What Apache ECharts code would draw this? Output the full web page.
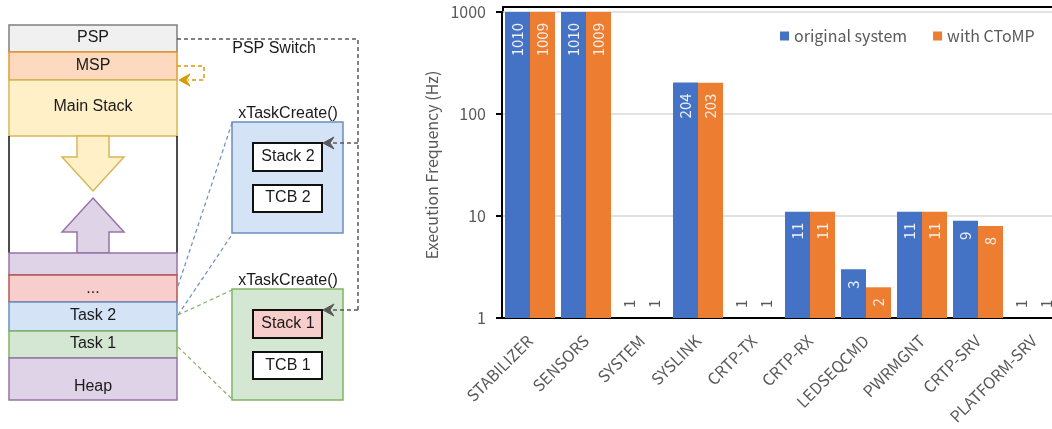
<!DOCTYPE html>
<html>
<head>
<meta charset="utf-8">
<script src="https://cdn.jsdelivr.net/npm/echarts@6.0.0/dist/echarts.min.js"></script>
<style>
  html, body { margin: 0; padding: 0; background: #ffffff; overflow: hidden; width: 1052px; height: 429px; }
  /* the plot runs a little past the right edge of the page */
  #chart { width: 1062px; height: 429px; }
</style>
</head>
<body>
<div id="chart"></div>
<script>
// Task categories on the x axis
const categories = ['STABILIZER', 'SENSORS', 'SYSTEM', 'SYSLINK', 'CRTP-TX', 'CRTP-RX', 'LEDSEQCMD', 'PWRMGNT', 'CRTP-SRV', 'PLATFORM-SRV'];
// Execution frequency (Hz) of each task
const originalSystem = [1010, 1010, 1, 204, 1, 11, 3, 11, 9, 1];
const withCToMP = [1009, 1009, 1, 203, 1, 11, 2, 11, 8, 1];
const seriesNames = ['original system', 'with CToMP'];

const chartFont = '"Noto Sans CJK SC", "Noto Sans", sans-serif';
const diagFont = '"Liberation Sans", Arial, sans-serif';
const gray = '#595959';

// Value labels: inside the bar top, rotated; bars that sit on the baseline get a gray label above it
function toItems(values) {
  return values.map(function (v) {
    if (v <= 1) {
      return { value: v, label: { position: 'top', align: 'left', color: gray, distance: 10 } };
    }
    return v;
  });
}

// ---- memory layout diagram drawn with graphic elements ----
function rect(x, y, w, h, fill, stroke, lw) {
  return { type: 'rect', shape: { x: x, y: y, width: w, height: h }, style: { fill: fill, stroke: stroke, lineWidth: lw || 1.5 } };
}
function label(txt, x, y, size) {
  return { type: 'text', style: { text: txt, x: x, y: y, fill: '#1a1a1a', font: (size || 16) + 'px ' + diagFont, align: 'center', verticalAlign: 'middle' } };
}
function dashed(points, color, lw) {
  return { type: 'polyline', shape: { points: points }, style: { stroke: color, lineWidth: lw || 1.5, lineDash: [4, 3], fill: null } };
}
function arrowHead(x, y, color) {
  return { type: 'polygon', shape: { points: [[x, y], [x + 11, y - 6], [x + 7, y], [x + 11, y + 6]] }, style: { fill: color, stroke: color, lineWidth: 1 } };
}

const diagram = [
  // stack column
  rect(9, 25, 168, 27, '#eff0ef', '#7f7f7f'),
  rect(9, 52, 168, 28, '#fcd9bf', '#e39a2c'),
  rect(9, 80, 168, 56, '#fff0c8', '#d6b656'),
  { type: 'line', shape: { x1: 9, y1: 136, x2: 9, y2: 253 }, style: { stroke: '#111', lineWidth: 1.5 } },
  { type: 'line', shape: { x1: 177, y1: 136, x2: 177, y2: 253 }, style: { stroke: '#111', lineWidth: 1.5 } },
  { type: 'polygon', shape: { points: [[77, 136], [109, 136], [109, 157], [124, 157], [93, 191], [62, 157], [77, 157]] }, style: { fill: '#fff0c8', stroke: '#d6b656', lineWidth: 1.5 } },
  { type: 'polygon', shape: { points: [[93, 198], [124, 232], [109, 232], [109, 253], [77, 253], [77, 232], [62, 232]] }, style: { fill: '#dfd3e8', stroke: '#9673a6', lineWidth: 1.5 } },
  rect(9, 253, 168, 22, '#dfd3e8', '#9673a6'),
  rect(9, 275, 168, 27, '#f8cecc', '#b85450'),
  rect(9, 302, 168, 29, '#d4e3f6', '#6c8ebf'),
  rect(9, 331, 168, 27, '#d3e7d2', '#82b366'),
  rect(9, 358, 168, 42, '#dfd3e8', '#9673a6'),
  label('PSP', 93, 38), label('MSP', 93, 66), label('Main Stack', 93, 107),
  label('...', 93, 289), label('Task 2', 93, 316), label('Task 1', 93, 344), label('Heap', 93, 387),

  // task boxes
  rect(232, 122, 111, 111, '#d4e3f6', '#6c8ebf'),
  rect(232, 289, 111, 111, '#d3e7d2', '#82b366'),
  rect(253, 143, 69, 28, '#ffffff', '#111', 2),
  rect(253, 185, 69, 27, '#ffffff', '#111', 2),
  rect(253, 310, 69, 28, '#f8cecc', '#111', 2),
  rect(253, 352, 69, 27, '#ffffff', '#111', 2),
  label('Stack 2', 288, 157), label('TCB 2', 288, 198),
  label('Stack 1', 288, 324), label('TCB 1', 288, 366),
  label('xTaskCreate()', 288, 114), label('xTaskCreate()', 288, 281),
  label('PSP Switch', 274, 49),

  // connectors
  dashed([[178, 286], [232, 123]], '#6c8ebf', 1.2),
  dashed([[178, 315], [231, 236]], '#6c8ebf', 1.2),
  dashed([[178, 315], [232, 290]], '#82b366', 1.2),
  dashed([[178, 347], [232, 399]], '#82b366', 1.2),
  dashed([[177, 39], [358, 39], [358, 310]], '#595959', 1.5),
  dashed([[358, 143], [332, 143]], '#595959', 1.5),
  dashed([[358, 310], [332, 310]], '#595959', 1.5),
  arrowHead(323, 143, '#595959'),
  arrowHead(323, 310, '#595959'),
  dashed([[177, 66], [204, 66], [204, 80], [188, 80]], '#d79b00', 1.5),
  arrowHead(179, 80, '#d79b00'),

  // frame line above the plot
  { type: 'polyline', shape: { points: [[503, 13], [503, 7], [1062, 7]] }, style: { stroke: '#000', lineWidth: 2, fill: null } }
];

const chart = echarts.init(document.getElementById('chart'), null, { renderer: 'canvas' });
chart.setOption({
  animation: false,
  backgroundColor: '#ffffff',
  textStyle: { fontFamily: chartFont },
  legend: {
    data: seriesNames,
    left: 775, top: 23,
    icon: 'rect', itemWidth: 9, itemHeight: 9, itemGap: 26,
    textStyle: { color: gray, fontSize: 16, fontFamily: chartFont }
  },
  grid: { left: 502, right: 0, top: 12, bottom: 111, containLabel: false },
  xAxis: {
    type: 'category',
    data: categories,
    axisLine: { lineStyle: { color: '#000', width: 2 } },
    axisTick: { show: false },
    axisLabel: { interval: 0, rotate: 45, color: gray, fontSize: 16, margin: 20, fontFamily: chartFont }
  },
  yAxis: {
    type: 'log',
    logBase: 10,
    min: 1,
    max: 1000,
    name: 'Execution Frequency (Hz)',
    nameLocation: 'middle',
    nameGap: 62,
    nameTextStyle: { color: gray, fontSize: 16, fontFamily: chartFont },
    axisLine: { show: true, lineStyle: { color: '#000', width: 2 } },
    axisTick: { show: true, length: 6, lineStyle: { color: '#000', width: 2 } },
    axisLabel: { color: gray, fontSize: 16, margin: 16, fontFamily: chartFont, formatter: function (v) { return String(Math.round(v)); } },
    splitLine: { lineStyle: { color: '#d9d9d9', width: 1.5 } },
    minorTick: { show: false }
  },
  series: [
    {
      name: seriesNames[0], type: 'bar', data: toItems(originalSystem),
      barGap: '0%', barCategoryGap: '10.7%',
      itemStyle: { color: '#4472c4' },
      label: { show: true, position: 'insideTop', rotate: 90, align: 'right', verticalAlign: 'middle', distance: 11, color: '#eef0f4', fontSize: 15, fontFamily: chartFont }
    },
    {
      name: seriesNames[1], type: 'bar', data: toItems(withCToMP),
      itemStyle: { color: '#ed7d31' },
      label: { show: true, position: 'insideTop', rotate: 90, align: 'right', verticalAlign: 'middle', distance: 11, color: '#f6efe9', fontSize: 15, fontFamily: chartFont }
    }
  ],
  graphic: diagram
});
</script>
</body>
</html>
